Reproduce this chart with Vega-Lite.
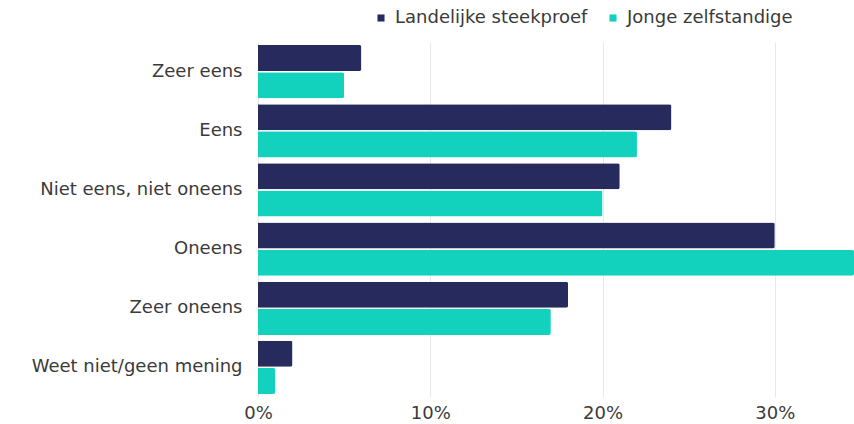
{
  "$schema": "https://vega.github.io/schema/vega-lite/v6.json",
  "autosize": "none",
  "width": 596,
  "height": 355,
  "padding": {"left": 258, "top": 42, "right": 0, "bottom": 27},
  "background": "white",
  "config": {
    "view": {"stroke": null},
    "font": "DejaVu Sans",
    "axis": {"labelFont": "DejaVu Sans", "labelColor": "#3a3a3a", "labelFontSize": 18},
    "legend": {"labelFont": "DejaVu Sans", "labelColor": "#3a3a3a", "labelFontSize": 18}
  },
  "data": {
    "values": [
      {"categorie": "Zeer eens", "groep": "Landelijke steekproef", "waarde": 6},
      {"categorie": "Zeer eens", "groep": "Jonge zelfstandige", "waarde": 5},
      {"categorie": "Eens", "groep": "Landelijke steekproef", "waarde": 24},
      {"categorie": "Eens", "groep": "Jonge zelfstandige", "waarde": 22},
      {"categorie": "Niet eens, niet oneens", "groep": "Landelijke steekproef", "waarde": 21},
      {"categorie": "Niet eens, niet oneens", "groep": "Jonge zelfstandige", "waarde": 20},
      {"categorie": "Oneens", "groep": "Landelijke steekproef", "waarde": 30},
      {"categorie": "Oneens", "groep": "Jonge zelfstandige", "waarde": 35},
      {"categorie": "Zeer oneens", "groep": "Landelijke steekproef", "waarde": 18},
      {"categorie": "Zeer oneens", "groep": "Jonge zelfstandige", "waarde": 17},
      {"categorie": "Weet niet/geen mening", "groep": "Landelijke steekproef", "waarde": 2},
      {"categorie": "Weet niet/geen mening", "groep": "Jonge zelfstandige", "waarde": 1}
    ]
  },
  "mark": {"type": "bar", "cornerRadiusEnd": 2},
  "encoding": {
    "y": {
      "field": "categorie",
      "type": "nominal",
      "sort": ["Zeer eens", "Eens", "Niet eens, niet oneens", "Oneens", "Zeer oneens", "Weet niet/geen mening"],
      "scale": {"paddingInner": 0.1, "paddingOuter": 0.05},
      "axis": {"title": null, "domain": false, "ticks": false, "labelPadding": 16, "labelLimit": 300}
    },
    "yOffset": {
      "field": "groep",
      "type": "nominal",
      "sort": ["Landelijke steekproef", "Jonge zelfstandige"],
      "scale": {"paddingInner": 0.04}
    },
    "x": {
      "field": "waarde",
      "type": "quantitative",
      "scale": {"domain": [0, 34.6], "nice": false, "clamp": true},
      "axis": {
        "title": null,
        "values": [0, 10, 20, 30],
        "labelExpr": "datum.value + '%'",
        "domain": false,
        "ticks": false,
        "grid": true,
        "gridColor": "#e8e8e8",
        "labelPadding": 7,
        "labelFlush": false
      }
    },
    "color": {
      "field": "groep",
      "type": "nominal",
      "sort": ["Landelijke steekproef", "Jonge zelfstandige"],
      "scale": {"domain": ["Landelijke steekproef", "Jonge zelfstandige"], "range": ["#262a5c", "#12d1bd"]},
      "legend": {
        "title": null,
        "orient": "none",
        "direction": "horizontal",
        "legendX": 114,
        "legendY": -33,
        "symbolType": "square",
        "symbolSize": 50,
        "symbolStrokeWidth": 0,
        "labelOffset": 5,
        "labelLimit": 400,
        "columnPadding": 16
      }
    }
  }
}
